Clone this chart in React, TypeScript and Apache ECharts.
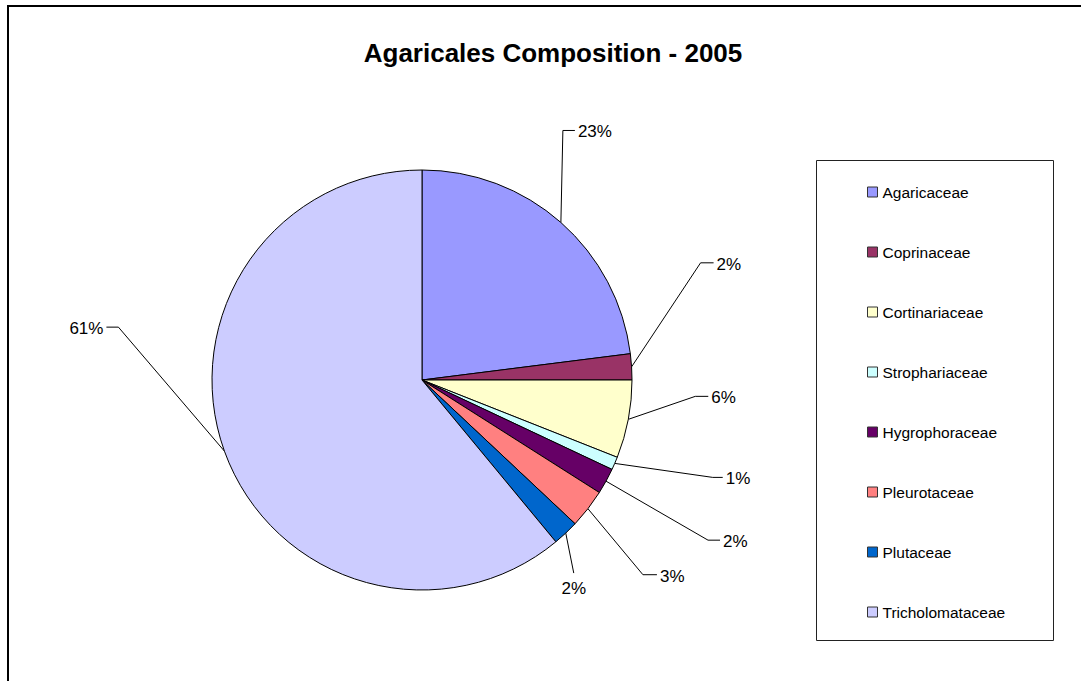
import React, { useEffect, useRef } from "react";
import * as echarts from "echarts";

// Family shares of the Agaricales sample, in percent
const CATEGORIES = [
  "Agaricaceae",
  "Coprinaceae",
  "Cortinariaceae",
  "Strophariaceae",
  "Hygrophoraceae",
  "Pleurotaceae",
  "Plutaceae",
  "Tricholomataceae",
];
const SHARES = [23, 2, 6, 1, 2, 3, 2, 61];
const COLORS = [
  "#9999FF",
  "#993366",
  "#FFFFCC",
  "#CCFFFF",
  "#660066",
  "#FF8080",
  "#0066CC",
  "#CCCCFF",
];

const TITLE = "Agaricales Composition - 2005";

// Pie geometry
const CX = 422;
const CY = 380;
const R = 210;

// Leader lines: bend offset from the slice edge, then a short horizontal tail
const LEADER_BEND: number[][] = [
  [2, -92],
  [69, -104],
  [67, -23],
  [98, 14],
  [102, 59],
  [55, 66],
  [8, 40],
  [-106, -124],
];
const LEADER_TAIL = [12, 13, 13, 10, 12, 14, 0, -12];

const FONT = '"Liberation Sans", Arial, sans-serif';

function sliceEdge(i: number): number[] {
  const total = SHARES.reduce((a, b) => a + b, 0);
  let before = 0;
  for (let k = 0; k < i; k++) before += SHARES[k];
  const mid = ((before + SHARES[i] / 2) / total) * Math.PI * 2;
  return [CX + R * Math.sin(mid), CY - R * Math.cos(mid)];
}

export default function App() {
  const ref = useRef<HTMLDivElement>(null);

  useEffect(() => {
    if (!ref.current) return;
    const chart = echarts.init(ref.current, null, { renderer: "svg" });

    chart.setOption({
      animation: false,
      backgroundColor: "#ffffff",
      graphic: [
        {
          type: "polyline",
          shape: {
            points: [
              [8, 720],
              [8, 6],
              [1120, 6],
            ],
          },
          style: { stroke: "#000", lineWidth: 2, fill: null },
          silent: true,
        },
        {
          type: "rect",
          shape: { x: 816.5, y: 160.5, width: 237, height: 480 },
          style: { stroke: "#222", lineWidth: 1, fill: null },
          silent: true,
          z: -1,
        },
        {
          type: "text",
          x: 553,
          y: 53,
          style: {
            text: TITLE,
            font: `bold 26px ${FONT}`,
            fill: "#000",
            textAlign: "center",
            textVerticalAlign: "middle",
          },
          silent: true,
        },
      ],
      legend: {
        orient: "vertical",
        left: 867,
        top: 182,
        padding: 0,
        itemGap: 40,
        itemWidth: 10,
        itemHeight: 10,
        icon: "rect",
        selectedMode: false,
        data: CATEGORIES,
        textStyle: {
          fontFamily: FONT,
          fontSize: 15.5,
          color: "#000",
          lineHeight: 20,
        },
        itemStyle: { borderColor: "#333", borderWidth: 1 },
      },
      series: [
        {
          type: "pie",
          center: [CX, CY],
          radius: R,
          startAngle: 90,
          clockwise: true,
          avoidLabelOverlap: false,
          silent: true,
          minShowLabelAngle: 0,
          data: CATEGORIES.map((name, i) => ({
            name,
            value: SHARES[i],
            itemStyle: { color: COLORS[i] },
          })),
          itemStyle: { borderColor: "#000", borderWidth: 1 },
          emphasis: { disabled: true },
          label: {
            show: true,
            position: "outside",
            formatter: (p: any) => `${p.value}%`,
            fontFamily: FONT,
            fontSize: 17,
            color: "#000",
          },
          labelLine: {
            show: true,
            length: 20,
            length2: 10,
            lineStyle: { color: "#000", width: 1 },
          },
          labelLayout: (params: any) => {
            const i = params.dataIndex;
            const pts = params.labelLinePoints;
            const p0 = pts && pts[0] ? pts[0] : sliceEdge(i);
            const bend = [p0[0] + LEADER_BEND[i][0], p0[1] + LEADER_BEND[i][1]];
            const tail = LEADER_TAIL[i];
            const end = [bend[0] + tail, bend[1]];
            let x: number;
            let y: number;
            let align: string;
            if (tail > 0) {
              x = end[0] + 3;
              y = end[1] + 1.5;
              align = "left";
            } else if (tail < 0) {
              x = end[0] - 3;
              y = end[1] + 1.5;
              align = "right";
            } else {
              x = end[0];
              y = end[1] + 15;
              align = "center";
            }
            const points = tail === 0 ? [p0, bend] : [p0, bend, end];
            return {
              x,
              y,
              align,
              verticalAlign: "middle",
              labelLinePoints: points,
            };
          },
        },
      ],
    });

    return () => chart.dispose();
  }, []);

  return (
    <div
      ref={ref}
      style={{
        position: "fixed",
        left: 0,
        top: 0,
        width: 1081,
        height: 681,
        background: "#fff",
      }}
    />
  );
}
